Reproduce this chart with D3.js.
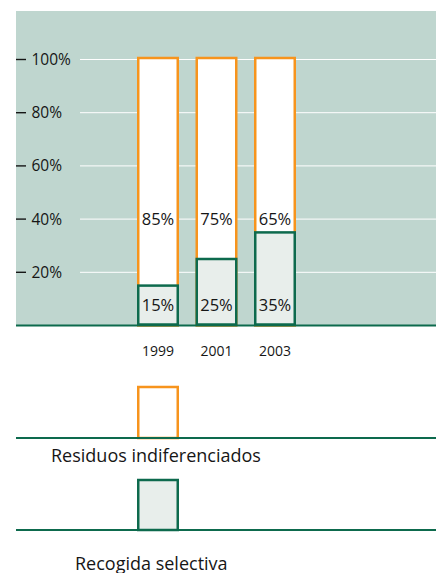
<!DOCTYPE html>
<html>
<head>
<meta charset="utf-8">
<script src="https://cdn.jsdelivr.net/npm/d3@7/dist/d3.min.js"></script>
<style>
  html, body { margin: 0; padding: 0; background: #ffffff; }
  svg { display: block; }
  text { font-family: "Open Sans", "Noto Sans", sans-serif; fill: #161616; font-weight: 500; }
</style>
</head>
<body>
<svg id="chart" width="436" height="573"></svg>
<script>
// Share of municipal waste by collection type
const years = ["1999", "2001", "2003"];
const mixedWaste = [85, 75, 65];       // Residuos indiferenciados (%)
const selective = [15, 25, 35];        // Recogida selectiva (%)
const yTicks = [20, 40, 60, 80, 100];
const legendLabels = ["Residuos indiferenciados", "Recogida selectiva"];

const ORANGE = "#f7941d";
const GREEN = "#0d6a4d";
const PANEL = "#bfd6cf";
const LIGHT = "#e8eeeb";

const svg = d3.select("#chart");
const W = 436;

const x = d3.scaleBand()
  .domain(years)
  .range([137, 296])
  .paddingInner(0.282)
  .paddingOuter(0);

const y = d3.scaleLinear().domain([0, 100]).range([325.5, 59.5]);

// Plot panel
svg.append("rect")
  .attr("x", 16).attr("y", 11)
  .attr("width", W - 16).attr("height", y(0) - 11)
  .attr("fill", PANEL);

// Horizontal gridlines
svg.append("g")
  .selectAll("line")
  .data(yTicks)
  .join("line")
  .attr("x1", 80).attr("x2", W)
  .attr("y1", d => y(d)).attr("y2", d => y(d))
  .attr("stroke", "#ffffff").attr("stroke-width", 1);

// Y axis: dash marks with labels
const yAxis = svg.append("g");
const tickG = yAxis.selectAll("g")
  .data(yTicks)
  .join("g")
  .attr("transform", d => `translate(0,${y(d)})`);
tickG.append("line")
  .attr("x1", 16).attr("x2", 26)
  .attr("stroke", "#161616").attr("stroke-width", 1.4);
tickG.append("text")
  .attr("x", 31.5).attr("dy", "0.35em")
  .attr("font-size", 15.5)
  .text(d => d + "%");

const rows = years.map((yr, i) => ({ yr, mixed: mixedWaste[i], sel: selective[i] }));

// Full-height bars (total = mixed + selective)
svg.append("g")
  .selectAll("rect")
  .data(rows)
  .join("rect")
  .attr("x", d => x(d.yr) + 1.25)
  .attr("y", d => y(d.mixed + d.sel) - 1.5)
  .attr("width", x.bandwidth() - 2.5)
  .attr("height", d => y(0) - y(d.mixed + d.sel) + 1.5)
  .attr("fill", "#ffffff")
  .attr("stroke", ORANGE).attr("stroke-width", 2.5);

// Selective collection segment
svg.append("g")
  .selectAll("rect")
  .data(rows)
  .join("rect")
  .attr("x", d => x(d.yr) + 1.25)
  .attr("y", d => y(d.sel))
  .attr("width", x.bandwidth() - 2.5)
  .attr("height", d => y(0) - y(d.sel) - 1)
  .attr("fill", LIGHT)
  .attr("stroke", GREEN).attr("stroke-width", 2.5);

// Value labels
svg.append("g")
  .selectAll("text")
  .data(rows)
  .join("text")
  .attr("x", d => x(d.yr) + x.bandwidth() / 2)
  .attr("y", y(40))
  .attr("dy", "0.35em")
  .attr("text-anchor", "middle")
  .attr("font-size", 16.5)
  .text(d => d.mixed + "%");

svg.append("g")
  .selectAll("text")
  .data(rows)
  .join("text")
  .attr("x", d => x(d.yr) + x.bandwidth() / 2)
  .attr("y", 305.5)
  .attr("dy", "0.35em")
  .attr("text-anchor", "middle")
  .attr("font-size", 16.5)
  .text(d => d.sel + "%");

// Baseline
svg.append("line")
  .attr("x1", 16).attr("x2", W)
  .attr("y1", y(0)).attr("y2", y(0))
  .attr("stroke", GREEN).attr("stroke-width", 2.2);

// Year labels
svg.append("g")
  .selectAll("text")
  .data(years)
  .join("text")
  .attr("x", d => x(d) + x.bandwidth() / 2)
  .attr("y", 351.5)
  .attr("dy", "0.35em")
  .attr("text-anchor", "middle")
  .attr("font-size", 14)
  .text(d => d);

// Legend
const legend = [
  { label: legendLabels[0], stroke: ORANGE, fill: "#ffffff", top: 387, base: 438, tx: 51, ty: 462 },
  { label: legendLabels[1], stroke: GREEN, fill: LIGHT, top: 480, base: 530, tx: 75, ty: 570 }
];
const lg = svg.append("g").selectAll("g").data(legend).join("g");
lg.append("rect")
  .attr("x", x(years[0]) + 1.25)
  .attr("y", d => d.top)
  .attr("width", x.bandwidth() - 2.5)
  .attr("height", d => d.base - d.top)
  .attr("fill", d => d.fill)
  .attr("stroke", d => d.stroke).attr("stroke-width", 2.5);
lg.append("line")
  .attr("x1", 16).attr("x2", W)
  .attr("y1", d => d.base).attr("y2", d => d.base)
  .attr("stroke", GREEN).attr("stroke-width", 2.2);
lg.append("text")
  .attr("x", d => d.tx).attr("y", d => d.ty)
  .attr("font-size", 18)
  .text(d => d.label);
</script>
</body>
</html>
